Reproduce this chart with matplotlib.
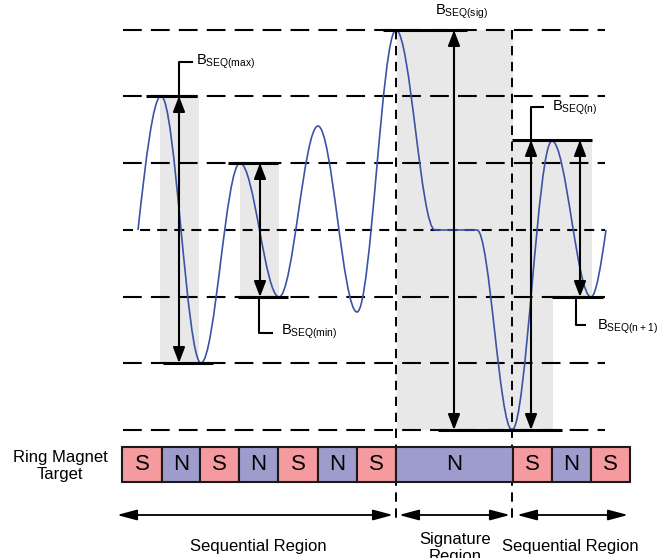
import matplotlib
matplotlib.use('Agg')
import matplotlib.pyplot as plt
from matplotlib.patches import Rectangle, FancyArrowPatch, PathPatch
from matplotlib.path import Path

plt.rcParams['font.family'] = ['Liberation Sans', 'DejaVu Sans']
plt.rcParams['mathtext.fontset'] = 'custom'
plt.rcParams['mathtext.rm'] = 'Liberation Sans'

# everything below is in picture units (x right, y down)
levels = [30, 96, 163, 230, 297, 363, 430]
mid_level = 230
x_start, x_end = 123, 605
region_bounds = [396, 512]

# extrema of the sensor signal
wave_x = [138, 161, 201, 240, 279, 318, 357, 396, 435, 477, 512, 552, 591, 606]
wave_y = [230, 96, 363, 163, 297, 126, 312, 30, 230, 230, 430, 141, 297, 230]

# magnet poles
pole_edges = [122, 162, 200, 239, 278, 318, 357, 396, 513, 552, 591, 630]
pole_names = ['S', 'N', 'S', 'N', 'S', 'N', 'S', 'N', 'S', 'N', 'S']
pole_colors = {'S': '#f59a9f', 'N': '#9e9ccc'}

# shaded spans (x0, x1, y0, y1)
shades = [(160, 199, 96, 363), (240, 279, 163, 297), (397, 513, 30, 430),
          (513, 592, 140, 297), (513, 553, 297, 430)]
# solid reference marks (x0, x1, y)
marks = [(146, 197, 96), (163, 213, 363), (228, 278, 163), (238, 288, 297),
         (383, 467, 30), (438, 562, 430), (512, 592, 140), (552, 603, 297)]
# double arrows (x, y_top, y_bottom)
amp_arrows = [(179, 96, 363), (260, 163, 297), (454, 30, 430),
              (531, 140, 430), (580, 140, 297)]

fig = plt.figure(figsize=(6.63, 5.58), dpi=100)
ax = fig.add_axes([0, 0, 1, 1])
ax.set_xlim(0, 663)
ax.set_ylim(558, 0)
ax.axis('off')

for x0, x1, y0, y1 in shades:
    ax.add_patch(Rectangle((x0, y0), x1 - x0, y1 - y0, color='#e8e8e8', lw=0, zorder=0))

for y in levels:
    if y == mid_level:
        ls = (0, (4.8, 3.4))
    else:
        ls = (0, (9.0, 4.4))
    ax.plot([x_start, x_end], [y, y], color='black', lw=1.5, ls=ls, zorder=1)

for x in region_bounds:
    ax.plot([x, x], [30, 523], color='black', lw=1.4, ls=(0, (4.8, 3.4)), zorder=1)

# signal curve as bezier pieces between extrema
verts = [(wave_x[0], wave_y[0])]
codes = [Path.MOVETO]
n = len(wave_x)
for i in range(n - 1):
    x0, y0, x1, y1 = wave_x[i], wave_y[i], wave_x[i + 1], wave_y[i + 1]
    dx, dy = x1 - x0, y1 - y0
    if y0 == y1:
        verts.append((x1, y1))
        codes.append(Path.LINETO)
        continue
    if i == 0:
        c1 = (x0 + dx / 3, y0 + dy * 0.524)
        c2 = (x0 + 2 * dx / 3, y1)
    elif i == n - 2:
        c1 = (x0 + dx / 3, y0)
        c2 = (x0 + 2 * dx / 3, y1 - dy * 0.524)
    else:
        c1 = (x0 + dx * 0.36, y0)
        c2 = (x1 - dx * 0.36, y1)
    verts += [c1, c2, (x1, y1)]
    codes += [Path.CURVE4] * 3
ax.add_patch(PathPatch(Path(verts, codes), fill=False, edgecolor='#3a53a4', lw=1.2, zorder=3))

for x0, x1, y in marks:
    ax.plot([x0, x1], [y, y], color='black', lw=2.2, solid_capstyle='butt', zorder=4)

for x, y0, y1 in amp_arrows:
    ax.add_patch(FancyArrowPatch((x, y0), (x, y1),
                                 arrowstyle='<|-|>,head_length=9.4,head_width=3.6',
                                 mutation_scale=1, color='black', lw=1.5,
                                 shrinkA=0, shrinkB=0, zorder=5))

# label leaders
leaders = [[(179, 96), (179, 62), (192, 62)], [(259, 297), (259, 333), (272, 333)],
           [(531, 140), (531, 107), (543, 107)], [(576, 297), (576, 325), (585, 325)]]
for pts in leaders:
    ax.plot([p[0] for p in pts], [p[1] for p in pts], color='black', lw=1.5, zorder=5)

labels = [(196, 62, 'max'), (281, 332, 'min'), (435, 12, 'sig'),
          (552, 108, 'n'), (597, 327, 'n+1')]
for x, y, sub in labels:
    ax.text(x, y, r'B$_{\mathrm{SEQ(' + sub + ')}}$', fontsize=10.5, ha='left', va='center')

# ring magnet
for i, name in enumerate(pole_names):
    x0, x1 = pole_edges[i], pole_edges[i + 1]
    ax.add_patch(Rectangle((x0, 447), x1 - x0, 35, facecolor=pole_colors[name],
                           edgecolor='#1a1a1a', lw=1.5, zorder=2))
    ax.text((x0 + x1) / 2, 465, name, fontsize=16, ha='center', va='center', zorder=3)

ax.text(60, 466, 'Ring Magnet\nTarget', fontsize=12, ha='center', va='center', linespacing=1.1)

# regions
spans = [(117, 393), (399, 510), (517, 628)]
for x0, x1 in spans:
    ax.add_patch(FancyArrowPatch((x0, 515), (x1, 515),
                                 arrowstyle='<|-|>,head_length=12,head_width=3.2',
                                 mutation_scale=1, color='black', lw=1.3,
                                 shrinkA=0, shrinkB=0))
ax.text(258, 547, 'Sequential Region', fontsize=12, ha='center', va='center')
ax.text(455, 548, 'Signature\nRegion', fontsize=12, ha='center', va='center', linespacing=1.15)
ax.text(570, 547, 'Sequential Region', fontsize=12, ha='center', va='center')

fig.savefig('out.png', dpi=100)
